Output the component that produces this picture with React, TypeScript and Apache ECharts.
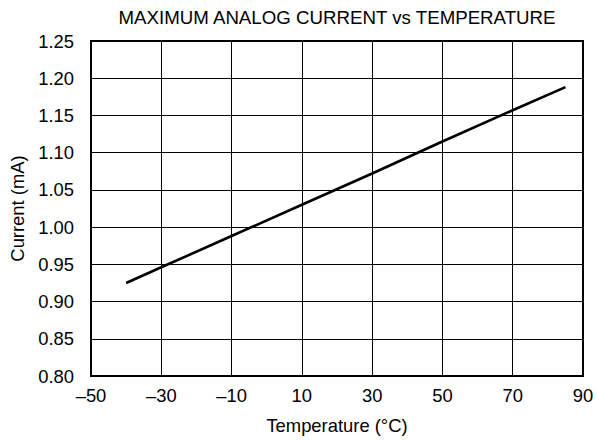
import React, { useEffect, useRef } from "react";
import * as echarts from "echarts";

const titleText = "MAXIMUM ANALOG CURRENT vs TEMPERATURE";
const xAxisName = "Temperature (\u00B0C)";
const yAxisName = "Current (mA)";
const temperatures = [-40, -30, -10, 10, 30, 50, 70, 85];
const currents = [0.925, 0.946, 0.988, 1.03, 1.072, 1.115, 1.157, 1.188];
const xMin = -50;
const xMax = 90;
const xStep = 20;
const yMin = 0.8;
const yMax = 1.25;
const yStep = 0.05;

const FONT = "'Liberation Sans', Arial, Helvetica, sans-serif";

export default function App() {
  const ref = useRef<HTMLDivElement>(null);
  useEffect(() => {
    document.body.style.margin = "0";
    const chart = echarts.init(ref.current!, null, { renderer: "svg" });
    chart.setOption({
      animation: false,
      backgroundColor: "#ffffff",
      title: {
        text: titleText,
        left: 332,
        top: 3,
        textAlign: "center",
        textStyle: { fontFamily: FONT, fontSize: 18.7, fontWeight: "normal", color: "#000" },
      },
      grid: {
        left: 89,
        right: 14,
        top: 41,
        bottom: 66,
        show: true,
        borderColor: "#000",
        borderWidth: 2,
        backgroundColor: "transparent",
      },
      xAxis: {
        type: "value",
        min: xMin,
        max: xMax,
        interval: xStep,
        name: xAxisName,
        nameLocation: "middle",
        nameGap: 40,
        nameTextStyle: { fontFamily: FONT, fontSize: 18.4, color: "#000" },
        axisLine: { show: true, onZero: false, lineStyle: { color: "#000", width: 2 } },
        axisTick: { show: false },
        axisLabel: {
          fontFamily: FONT,
          fontSize: 18.4,
          color: "#000",
          margin: 10,
          formatter: (v: number) => (v < 0 ? "\u2013" + Math.abs(v) : String(v)),
        },
        splitLine: { show: true, lineStyle: { color: "#000", width: 1 } },
      },
      yAxis: {
        type: "value",
        min: yMin,
        max: yMax,
        interval: yStep,
        name: yAxisName,
        nameLocation: "middle",
        nameGap: 65,
        nameTextStyle: { fontFamily: FONT, fontSize: 18.4, color: "#000" },
        axisLine: { show: true, onZero: false, lineStyle: { color: "#000", width: 2 } },
        axisTick: { show: false },
        axisLabel: {
          fontFamily: FONT,
          fontSize: 18.4,
          color: "#000",
          margin: 17,
          formatter: (v: number) => v.toFixed(2),
        },
        splitLine: { show: true, lineStyle: { color: "#000", width: 1 } },
      },
      series: [
        {
          type: "line",
          data: temperatures.map((t, i) => [t, currents[i]]),
          showSymbol: false,
          symbol: "none",
          lineStyle: { color: "#000", width: 2.6 },
        },
      ],
    });
    return () => chart.dispose();
  }, []);
  return (
    <div
      ref={ref}
      style={{ position: "fixed", left: 0, top: 0, width: 597, height: 442 }}
    />
  );
}
